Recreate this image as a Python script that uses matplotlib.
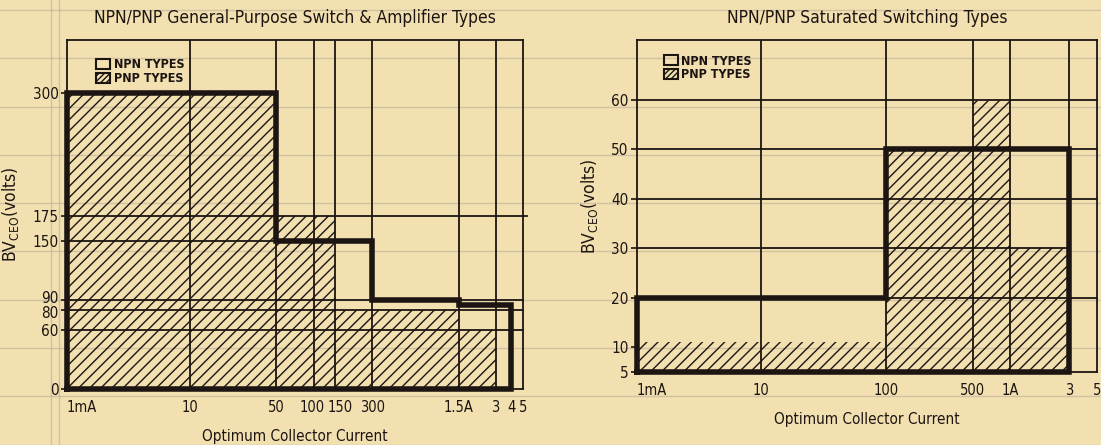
import numpy as np
import matplotlib.pyplot as plt
from matplotlib.lines import Line2D
from matplotlib.patches import Patch
from matplotlib.transforms import ScaledTranslation

# General-purpose switch & amplifier types (left panel), currents in mA
gp_pnp_edges = [1, 50, 150, 1500, 3000]
gp_pnp_bv = [300, 175, 80, 60]
gp_npn_edges = [1, 50, 300, 1500, 4000]
gp_npn_bv = [300, 150, 90, 85]
gp_yticks = [0, 60, 80, 90, 150, 175, 300]
gp_xticks = [1, 10, 50, 100, 150, 300, 1500, 3000, 4000, 5000]
gp_xlabels = ['1mA', '10', '50', '100', '150', '300', '1.5A', '3', '4', '5']
gp_vgrid = [10, 50, 100, 150, 300, 1500, 3000]
gp_hgrid = [60, 80, 90, 150, 175]
gp_hgrid_end = [5000, 5000, 5000, 50, 5400]

# Saturated switching types (right panel)
sat_pnp_edges = [1, 100, 500, 1000, 3000]
sat_pnp_bv = [11, 50, 60, 30]
sat_npn_edges = [1, 100, 3000]
sat_npn_bv = [20, 50]
sat_yticks = [5, 10, 20, 30, 40, 50, 60]
sat_xticks = [1, 10, 100, 500, 1000, 3000, 5000]
sat_xlabels = ['1mA', '10', '100', '500', '1A', '3', '5']
sat_vgrid = [10, 100, 500, 1000, 3000]
sat_hgrid = [20, 30, 40, 50, 60]
sat_hgrid_end = [5000, 3000, 5000, 5000, 5000]

PAPER = '#f2e0b1'
INK = '#1c1512'
RULE = '#b5aa93'

plt.rcParams['font.family'] = ['DejaVu Sans']
plt.rcParams['font.stretch'] = 'condensed'
plt.rcParams['hatch.linewidth'] = 1.0

W, H = 1101, 445
fig = plt.figure(figsize=(W / 100, H / 100), dpi=100, facecolor=PAPER)

# graph-paper rules behind everything
for yp in np.arange(10, H, 48.3):
    fig.add_artist(Line2D([0, 1], [1 - yp / H] * 2, transform=fig.transFigure,
                          color=RULE, lw=1.0, alpha=0.55, zorder=0))
for xp in [51, 59]:
    fig.add_artist(Line2D([xp / W] * 2, [0, 1], transform=fig.transFigure,
                          color=RULE, lw=1.0, alpha=0.55, zorder=0))


def nudge(label, dx=0, dy=0):
    # shift a tick label by a few points so crowded labels stay readable
    label.set_transform(label.get_transform() +
                        ScaledTranslation(dx / 72, dy / 72, fig.dpi_scale_trans))


def panel(rect, title, ylim, pnp_edges, pnp_bv, npn_edges, npn_bv,
          yticks, xticks, xlabels, vgrid, hgrid, hgrid_end, legend_at):
    ax = fig.add_axes(rect)
    ax.set_facecolor('none')
    ax.set_xscale('log')
    ax.set_xlim(1, 5000)
    ax.set_ylim(*ylim)
    base = ylim[0]

    # hatched PNP ranges
    ax.bar(pnp_edges[:-1], np.array(pnp_bv) - base, width=np.diff(pnp_edges),
           bottom=base, align='edge', fill=False, hatch='///',
           edgecolor=INK, linewidth=0, zorder=2)

    # thin drawn grid
    for xv in vgrid:
        ax.axvline(xv, color=INK, lw=1.3, zorder=3)
    for yv, xe in zip(hgrid, hgrid_end):
        ax.plot([1, xe], [yv, yv], color=INK, lw=1.3, zorder=3, clip_on=False)

    # heavy NPN outline
    xs = np.repeat(npn_edges, 2)
    ys = np.concatenate([[base], np.repeat(npn_bv, 2), [base]])
    xs = np.append(xs, npn_edges[0])
    ys = np.append(ys, base)
    ax.plot(xs, ys, color=INK, lw=4, solid_joinstyle='miter',
            solid_capstyle='projecting', zorder=4, clip_on=False)

    for s in ax.spines.values():
        s.set_color(INK)
        s.set_linewidth(1.3)

    ax.set_xticks(xticks, xlabels)
    ax.xaxis.set_minor_locator(plt.NullLocator())
    ax.set_yticks(yticks, [str(v) for v in yticks])
    ax.tick_params(axis='x', length=0, pad=8, labelsize=10.5, colors=INK)
    ax.tick_params(axis='y', length=4, width=1.2, pad=2, labelsize=11,
                   colors=INK)
    ax.get_xticklabels()[0].set_horizontalalignment('left')

    ax.set_title(title, fontsize=12.5, color=INK, pad=12)
    ax.set_xlabel('Optimum Collector Current', fontsize=11, color=INK,
                  labelpad=10)
    ax.set_ylabel(r'BV$_{\mathregular{CEO}}$(volts)', fontsize=12.5,
                  color=INK, labelpad=8)

    handles = [Patch(facecolor='none', edgecolor=INK, lw=1.5, label='NPN TYPES'),
               Patch(facecolor='none', edgecolor=INK, lw=1.5, hatch='//////',
                     label='PNP TYPES')]
    ax.legend(handles=handles, loc='upper left', bbox_to_anchor=legend_at,
              frameon=False, borderpad=0, handlelength=1.1, handleheight=0.8,
              handletextpad=0.3, labelspacing=0.05,
              prop=dict(size=9, weight='bold'), labelcolor=INK)
    return ax


ax1 = panel([67 / W, 1 - 389 / H, 456 / W, 349 / H],
            'NPN/PNP General-Purpose Switch & Amplifier Types', (0, 354),
            gp_pnp_edges, gp_pnp_bv, gp_npn_edges, gp_npn_bv,
            gp_yticks, gp_xticks, gp_xlabels, gp_vgrid, gp_hgrid, gp_hgrid_end,
            (0.05, 0.965))

# spread the crowded labels a little
xl = ax1.get_xticklabels()
nudge(xl[gp_xticks.index(100)], dx=-1)
nudge(xl[gp_xticks.index(150)], dx=3.5)
yl = ax1.get_yticklabels()
nudge(yl[gp_yticks.index(90)], dy=2)
nudge(yl[gp_yticks.index(80)], dy=-1.5)

panel([637 / W, 1 - 372 / H, 460 / W, 332 / H],
      'NPN/PNP Saturated Switching Types', (5, 72.1),
      sat_pnp_edges, sat_pnp_bv, sat_npn_edges, sat_npn_bv,
      sat_yticks, sat_xticks, sat_xlabels, sat_vgrid, sat_hgrid, sat_hgrid_end,
      (0.045, 0.975))

fig.savefig('out.png', dpi=100, facecolor=PAPER)
